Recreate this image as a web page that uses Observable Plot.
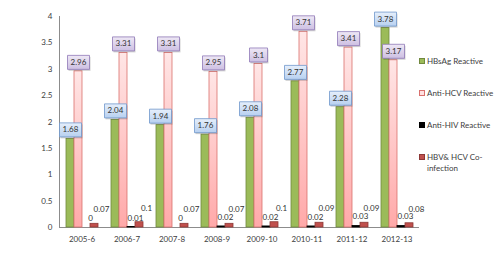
<!DOCTYPE html>
<html><head><meta charset="utf-8">
<script src="https://cdn.jsdelivr.net/npm/d3@7"></script>
<script src="https://cdn.jsdelivr.net/npm/@observablehq/plot@0.6"></script>
<style>
body{margin:0;background:#fff;}
#wrap{position:relative;width:500px;height:262px;font-family:Lato,sans-serif;}
#legend{position:absolute;left:419px;top:0;font-size:8px;color:#404040;}
.item{position:absolute;left:0;display:flex;white-space:nowrap;line-height:11px}
.sw{width:6px;height:6px;box-sizing:border-box;margin-right:2px;margin-top:2.5px;flex:none}
</style></head><body><div id="wrap"><div id="legend"></div></div>
<script>
const categories = ["2005-6","2006-7","2007-8","2008-9","2009-10","2010-11","2011-12","2012-13"];
const seriesNames = ["HBsAg Reactive","Anti-HCV Reactive","Anti-HIV Reactive","HBV& HCV Co-infection"];
const legendLabels = ["HBsAg Reactive","Anti-HCV Reactive","Anti-HIV Reactive","HBV& HCV Co-<br>infection"];
const hbsag   = [1.68, 2.04, 1.94, 1.76, 2.08, 2.77, 2.28, 3.78];
const antiHcv = [2.96, 3.31, 3.31, 2.95, 3.1, 3.71, 3.41, 3.17];
const antiHiv = [0, 0.01, 0, 0.02, 0.02, 0.02, 0.03, 0.03];
const coinf   = [0.07, 0.1, 0.07, 0.07, 0.1, 0.09, 0.09, 0.08];
const yTicks  = [0, 0.5, 1, 1.5, 2, 2.5, 3, 3.5, 4];

const seriesValues = [hbsag, antiHcv, antiHiv, coinf];
const rows = categories.flatMap((cat, i) => seriesNames.map((s, j) => ({cat, series: s, value: seriesValues[j][i], label: String(seriesValues[j][i])})));
const S = seriesNames;
const rectSymbol = (w, h) => ({draw(ctx) { ctx.rect(-w / 2, -h / 2, w, h); }});
const box4 = rectSymbol(22, 14), box3 = rectSymbol(18, 14);
const bySeries = (k) => (d) => d.series === S[k];
const bySeriesLen = (k, n) => (d) => d.series === S[k] && d.label.length === n;

const lab = {fx: "cat", x: "series", y: "value", fontSize: 8, fill: "#333"};
const chart = Plot.plot({
  width: 500, height: 262,
  marginLeft: 57, marginRight: 80, marginTop: 16, marginBottom: 35,
  style: {fontFamily: "Lato", fontSize: "8px", color: "#8c8c8c", background: "white"},
  fx: {domain: categories, padding: 0, axis: "bottom", label: null, tickSize: 0, tickPadding: 9},
  x: {domain: seriesNames, axis: null, paddingInner: 0.06, paddingOuter: 0.68},
  y: {domain: [0, 4], ticks: yTicks, tickSize: 0, tickPadding: 7, label: null, tickFormat: d => String(d)},
  marks: [
    Plot.frame({anchor: "left", facet: "super", stroke: "#8c8c8c"}),
    Plot.ruleY([0], {stroke: "#8c8c8c"}),
    Plot.barY(rows, {filter: bySeries(0), fx: "cat", x: "series", y: "value", fill: "#9bbb59", stroke: "#71893f", strokeWidth: 0.8}),
    Plot.barY(rows, {filter: bySeries(1), fx: "cat", x: "series", y: "value", fill: "url(#pinkG)", stroke: "#d9706d", strokeWidth: 0.8}),
    Plot.barY(rows, {filter: bySeries(2), fx: "cat", x: "series", y: "value", fill: "#000", stroke: "#000", strokeWidth: 0.8}),
    Plot.barY(rows, {filter: bySeries(3), fx: "cat", x: "series", y: "value", fill: "#c0504d", stroke: "#8c3836", strokeWidth: 0.8}),
    // shadows
    Plot.dot(rows, {filter: bySeriesLen(0, 4), fx: "cat", x: "series", y: "value", symbol: box4, dx: 1, dy: -7.5, fill: "#000", fillOpacity: 0.18, stroke: "none"}),
    Plot.dot(rows, {filter: bySeriesLen(1, 4), fx: "cat", x: "series", y: "value", symbol: box4, dx: 1, dy: -7.5, fill: "#000", fillOpacity: 0.18, stroke: "none"}),
    Plot.dot(rows, {filter: bySeriesLen(1, 3), fx: "cat", x: "series", y: "value", symbol: box3, dx: 1, dy: -7.5, fill: "#000", fillOpacity: 0.18, stroke: "none"}),
    // boxes
    Plot.dot(rows, {filter: bySeriesLen(0, 4), fx: "cat", x: "series", y: "value", symbol: box4, dy: -9, fill: "url(#blueG)", stroke: "#6f97cc", strokeWidth: 0.8}),
    Plot.dot(rows, {filter: bySeriesLen(1, 4), fx: "cat", x: "series", y: "value", symbol: box4, dy: -9, fill: "url(#purpG)", stroke: "#8f78b8", strokeWidth: 0.8}),
    Plot.dot(rows, {filter: bySeriesLen(1, 3), fx: "cat", x: "series", y: "value", symbol: box3, dy: -9, fill: "url(#purpG)", stroke: "#8f78b8", strokeWidth: 0.8}),
    Plot.text(rows, {...lab, filter: bySeries(0), text: "label", dy: -9}),
    Plot.text(rows, {...lab, filter: bySeries(1), text: "label", dy: -9}),
    Plot.text(rows, {...lab, filter: bySeries(2), text: "label", dx: 4, dy: -9}),
    Plot.text(rows, {...lab, filter: bySeries(3), text: "label", dx: 7, dy: -14})
  ]
});
const svg = chart.tagName.toLowerCase() === "svg" ? chart : chart.querySelector("svg");
d3.select(svg).insert("defs", ":first-child").html(
  `<linearGradient id="pinkG" x1="0" y1="0" x2="0" y2="1"><stop offset="0" stop-color="#ffe6e6"/><stop offset="1" stop-color="#ffa9a9"/></linearGradient>
   <linearGradient id="blueG" x1="0" y1="0" x2="0" y2="1"><stop offset="0" stop-color="#e6effb"/><stop offset="1" stop-color="#b7d0f0"/></linearGradient>
   <linearGradient id="purpG" x1="0" y1="0" x2="0" y2="1"><stop offset="0" stop-color="#eee8f5"/><stop offset="1" stop-color="#cdbfe2"/></linearGradient>`);
d3.select(svg).selectAll("g[aria-label$='tick label']").attr("fill", "#404040");
document.getElementById("wrap").prepend(chart);

const swatches = [
  "background:#9bbb59;border:1px solid #71893f",
  "background:#ffe0e0;border:1px solid #d9706d",
  "background:#000;border:1px solid #000",
  "background:#c0504d;border:1px solid #8c3836"
];
const legendTops = [55.5, 87.5, 119.5, 151.5];
const legend = document.getElementById("legend");
legendLabels.forEach((t, i) => {
  const d = document.createElement("div");
  d.className = "item";
  d.style.top = legendTops[i] + "px";
  d.innerHTML = `<span class="sw" style="${swatches[i]}"></span><span>${t}</span>`;
  legend.appendChild(d);
});
</script>
</body></html>
